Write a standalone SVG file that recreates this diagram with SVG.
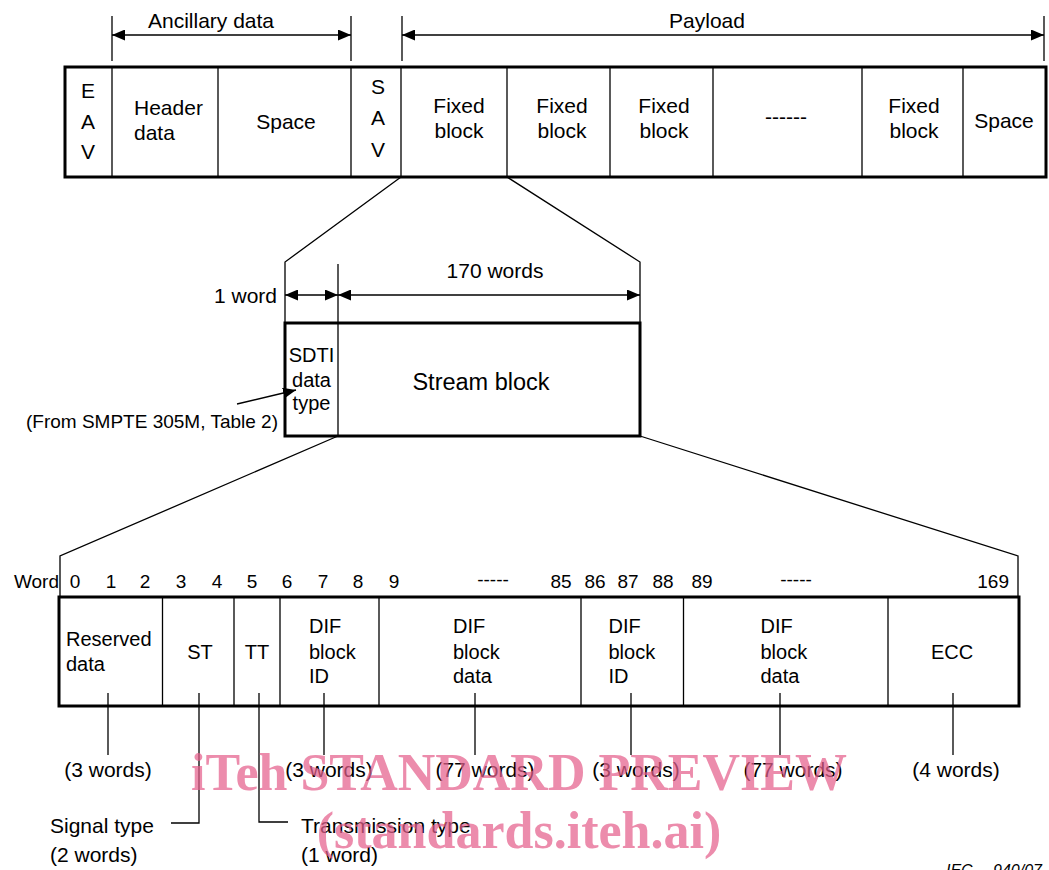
<svg xmlns="http://www.w3.org/2000/svg" width="1049" height="870" viewBox="0 0 1049 870">
<style>
text{font-family:"Liberation Sans",Arial,sans-serif;fill:#000}
.t21{font-size:21px}
.t20{font-size:20px}
.t19{font-size:19px}
.m{text-anchor:middle}
.e{text-anchor:end}
.box{fill:#fff;stroke:#000;stroke-width:3}
.div{stroke:#000;stroke-width:1.3;fill:none}
.ln{stroke:#000;stroke-width:1.3;fill:none}
.dim{stroke:#000;stroke-width:1.3;fill:none;marker-start:url(#ah);marker-end:url(#ah)}
.wm{font-family:"Liberation Serif","Times New Roman",serif;font-weight:bold;font-size:52px;fill:#e4608c;fill-opacity:0.72;text-anchor:middle}
.iec{font-size:16px;font-style:italic}
</style>
<defs>
<marker id="ah" viewBox="0 0 13 11" refX="13" refY="5.5" markerWidth="13" markerHeight="11" markerUnits="userSpaceOnUse" orient="auto-start-reverse"><path d="M0,0 L13,5.5 L0,11 z" fill="#000"/></marker>
</defs>

<!-- Top frame -->
<g id="top-frame">
<rect class="box" x="65" y="67" width="981" height="110"/>
<line class="div" x1="112" y1="67" x2="112" y2="177"/>
<line class="div" x1="218" y1="67" x2="218" y2="177"/>
<line class="div" x1="351" y1="67" x2="351" y2="177"/>
<line class="div" x1="401" y1="67" x2="401" y2="177"/>
<line class="div" x1="507" y1="67" x2="507" y2="177"/>
<line class="div" x1="610" y1="67" x2="610" y2="177"/>
<line class="div" x1="713" y1="67" x2="713" y2="177"/>
<line class="div" x1="862" y1="67" x2="862" y2="177"/>
<line class="div" x1="963" y1="67" x2="963" y2="177"/>
</g>
<g id="eav"><text class="t21 m" x="88" y="98">E</text><text class="t21 m" x="88" y="129">A</text><text class="t21 m" x="88" y="159">V</text></g>
<g id="header-data"><text class="t21" x="134" y="115">Header</text><text class="t21" x="134" y="140">data</text></g>
<g id="space1"><text class="t21 m" x="286" y="129">Space</text></g>
<g id="sav"><text class="t21 m" x="378" y="94">S</text><text class="t21 m" x="378" y="125">A</text><text class="t21 m" x="378" y="157">V</text></g>
<g id="fixed1"><text class="t21 m" x="459" y="113">Fixed</text><text class="t21 m" x="459" y="138">block</text></g>
<g id="fixed2"><text class="t21 m" x="562" y="113">Fixed</text><text class="t21 m" x="562" y="138">block</text></g>
<g id="fixed3"><text class="t21 m" x="664" y="113">Fixed</text><text class="t21 m" x="664" y="138">block</text></g>
<g id="dots-top"><text class="t21 m" x="786" y="124">------</text></g>
<g id="fixed4"><text class="t21 m" x="914" y="113">Fixed</text><text class="t21 m" x="914" y="138">block</text></g>
<g id="space2"><text class="t21 m" x="1004" y="128">Space</text></g>

<!-- Top dimension labels -->
<g id="ancillary-label"><text class="t21 m" x="211" y="28">Ancillary data</text></g>
<g id="payload-label"><text class="t21 m" x="707" y="28">Payload</text></g>

<!-- Middle block -->
<g id="stream-block">
<rect class="box" x="285" y="323" width="355" height="113"/>
<line class="div" x1="338" y1="323" x2="338" y2="436"/>
<text class="t20 m" x="311.5" y="362">SDTI</text>
<text class="t20 m" x="311.5" y="387">data</text>
<text class="t20 m" x="311.5" y="410">type</text>
<text class="m" style="font-size:23.5px" x="481" y="390">Stream block</text>
</g>
<g id="mid-labels">
<text class="t21 e" x="277" y="303">1 word</text>
<text class="t21 m" x="495" y="278">170 words</text>
<text class="t19 e" x="278" y="428">(From SMPTE 305M, Table 2)</text>
</g>

<!-- Bottom block -->
<g id="dif-block">
<rect class="box" x="59" y="597" width="960" height="109"/>
<line class="div" x1="162.5" y1="597" x2="162.5" y2="706"/>
<line class="div" x1="234" y1="597" x2="234" y2="706"/>
<line class="div" x1="280" y1="597" x2="280" y2="706"/>
<line class="div" x1="379" y1="597" x2="379" y2="706"/>
<line class="div" x1="581" y1="597" x2="581" y2="706"/>
<line class="div" x1="683.5" y1="597" x2="683.5" y2="706"/>
<line class="div" x1="888" y1="597" x2="888" y2="706"/>
<text class="t20" x="66" y="646">Reserved</text><text class="t20" x="66" y="671">data</text>
<text class="t20 m" x="200" y="659">ST</text>
<text class="t20 m" x="257" y="659">TT</text>
<text class="t20" x="309" y="633">DIF</text><text class="t20" x="309" y="659">block</text><text class="t20" x="309" y="683">ID</text>
<text class="t20" x="453" y="633">DIF</text><text class="t20" x="453" y="659">block</text><text class="t20" x="453" y="683">data</text>
<text class="t20" x="608.5" y="633">DIF</text><text class="t20" x="608.5" y="659">block</text><text class="t20" x="608.5" y="683">ID</text>
<text class="t20" x="760.5" y="633">DIF</text><text class="t20" x="760.5" y="659">block</text><text class="t20" x="760.5" y="683">data</text>
<text class="t20 m" x="952" y="659">ECC</text>
</g>

<!-- Word numbering -->
<g id="word-row">
<text class="t19 e" x="59" y="588">Word</text>
<text class="t19 m" x="75" y="588">0</text>
<text class="t19 m" x="111" y="588">1</text>
<text class="t19 m" x="145" y="588">2</text>
<text class="t19 m" x="181" y="588">3</text>
<text class="t19 m" x="217" y="588">4</text>
<text class="t19 m" x="252" y="588">5</text>
<text class="t19 m" x="287" y="588">6</text>
<text class="t19 m" x="323" y="588">7</text>
<text class="t19 m" x="358" y="588">8</text>
<text class="t19 m" x="394" y="588">9</text>
<text class="t19 m" x="493" y="586">-----</text>
<text class="t19 m" x="561" y="588">85</text>
<text class="t19 m" x="595" y="588">86</text>
<text class="t19 m" x="628" y="588">87</text>
<text class="t19 m" x="663" y="588">88</text>
<text class="t19 m" x="702" y="588">89</text>
<text class="t19 m" x="796" y="586">-----</text>
<text class="t19 e" x="1009" y="588">169</text>
</g>

<!-- Annotations -->
<g id="annotations">
<text class="t21 m" x="108" y="777">(3 words)</text>
<text class="t21 m" x="329" y="777">(3 words)</text>
<text class="t21 m" x="485" y="777">(77 words)</text>
<text class="t21 m" x="636" y="777">(3 words)</text>
<text class="t21 m" x="793" y="777">(77 words)</text>
<text class="t21 m" x="956" y="777">(4 words)</text>
<text class="t21" x="50" y="833">Signal type</text>
<text class="t21" x="50" y="862">(2 words)</text>
<text class="t21" x="301" y="833">Transmission type</text>
<text class="t21" x="301" y="862">(1 word)</text>
</g>

<!-- Connectors -->
<g id="connectors">
<line class="ln" x1="112" y1="16" x2="112" y2="61"/>
<line class="ln" x1="351" y1="16" x2="351" y2="61"/>
<line class="dim" x1="112" y1="35" x2="351" y2="35"/>
<line class="ln" x1="402" y1="16" x2="402" y2="61"/>
<line class="ln" x1="1044" y1="16" x2="1044" y2="61"/>
<line class="dim" x1="402" y1="35" x2="1044" y2="35"/>

<polyline class="ln" points="401,177 285,262 285,323"/>
<polyline class="ln" points="507,177 640,262 640,323"/>
<line class="ln" x1="338" y1="264" x2="338" y2="323"/>
<line class="dim" x1="285" y1="295" x2="338" y2="295"/>
<line class="dim" x1="338" y1="295" x2="640" y2="295"/>
<line class="ln" x1="237" y1="404" x2="296" y2="390" marker-end="url(#ah)"/>

<polyline class="ln" points="338,436 60,556 60,597"/>
<polyline class="ln" points="640,436 1018,556 1018,597"/>

<line class="ln" x1="108" y1="693" x2="108" y2="755"/>
<polyline class="ln" points="199,693 199,823 171,823"/>
<polyline class="ln" points="259,693 259,822 288,822"/>
<line class="ln" x1="324" y1="693" x2="324" y2="755"/>
<line class="ln" x1="475" y1="693" x2="475" y2="755"/>
<line class="ln" x1="631" y1="693" x2="631" y2="755"/>
<line class="ln" x1="780" y1="693" x2="780" y2="755"/>
<line class="ln" x1="953" y1="693" x2="953" y2="755"/>
</g>

<g id="figure-ref">
<text class="iec" x="946" y="876">IEC</text>
<text class="iec" x="993" y="876">940/07</text>
</g>

<g id="watermark">
<text class="wm" x="519" y="790">iTeh STANDARD PREVIEW</text>
<text class="wm" x="519" y="848">(standards.iteh.ai)</text>
</g>
</svg>
